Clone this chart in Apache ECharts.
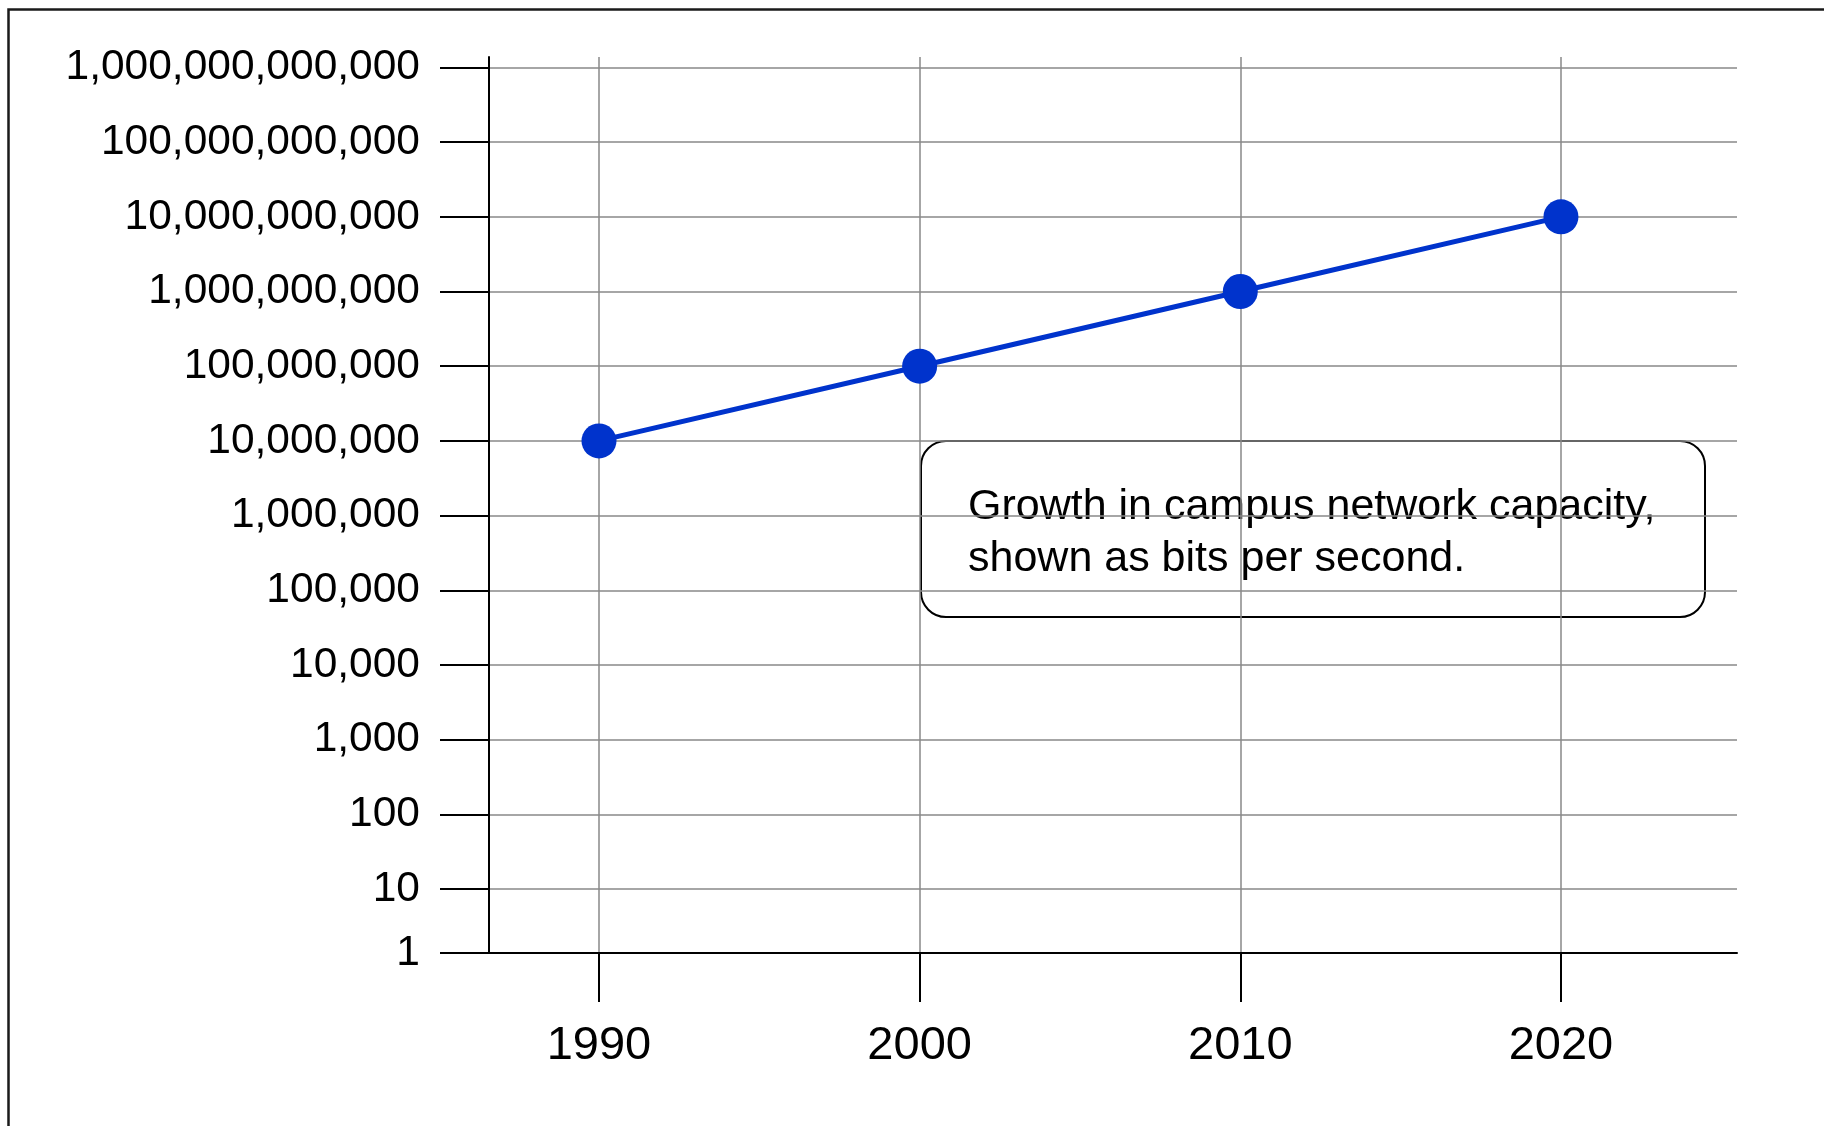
<!DOCTYPE html>
<html>
<head>
<meta charset="utf-8">
<style>
  html, body { margin: 0; padding: 0; background: #ffffff; }
  #chart { width: 1824px; height: 1126px; }
</style>
<script src="https://cdn.jsdelivr.net/npm/echarts@6/dist/echarts.min.js"></script>
</head>
<body>
<div id="chart"></div>
<script>
// ---- data ----
const years = [1990, 2000, 2010, 2020];
const bitsPerSecond = [1e7, 1e8, 1e9, 1e10];
const xTickValues = [1990, 2000, 2010, 2020];
const xTickLabels = ['1990', '2000', '2010', '2020'];
const yTickValues = [1, 10, 100, 1e3, 1e4, 1e5, 1e6, 1e7, 1e8, 1e9, 1e10, 1e11, 1e12];
const yTickLabels = ['1', '10', '100', '1,000', '10,000', '100,000', '1,000,000',
  '10,000,000', '100,000,000', '1,000,000,000', '10,000,000,000',
  '100,000,000,000', '1,000,000,000,000'];
const noteText = 'Growth in campus network capacity,\nshown as bits per second.';

// ---- axis extents ----
const X_MIN = 1986.57, X_MAX = 2025.49;
const Y_MIN = 1.39, Y_MAX = 1.38e12;

const FONT = '"Liberation Sans", Arial, sans-serif';
const GRID_COLOR = '#888888';

const yPlaced = yTickValues.map(v => Math.max(v, Y_MIN));
function yLabel(v) {
  const i = Math.round(Math.log10(v));
  return yTickLabels[i] !== undefined ? yTickLabels[i] : '';
}
function xLabel(v) {
  const i = xTickValues.indexOf(Math.round(v));
  return i >= 0 ? xTickLabels[i] : '';
}

const chart = echarts.init(document.getElementById('chart'), null, { renderer: 'canvas' });
chart.setOption({
  backgroundColor: '#ffffff',
  animation: false,
  textStyle: { fontFamily: FONT },
  grid: { left: 489, top: 57, right: 87, bottom: 173, containLabel: false },
  xAxis: {
    type: 'value',
    min: X_MIN,
    max: X_MAX,
    axisLine: { show: true, lineStyle: { color: '#000', width: 2 } },
    axisTick: { show: true, length: 49, customValues: xTickValues, lineStyle: { color: '#000', width: 2 } },
    axisLabel: {
      show: true, customValues: xTickValues, formatter: xLabel,
      fontSize: 47, color: '#000', fontFamily: FONT, margin: 70
    },
    splitLine: { show: true, showMinLine: true, showMaxLine: true, lineStyle: { color: GRID_COLOR, width: 1.5 } }
  },
  yAxis: {
    type: 'log',
    logBase: 10,
    min: Y_MIN,
    max: Y_MAX,
    axisLine: { show: true, lineStyle: { color: '#000', width: 2 } },
    axisTick: { show: true, length: 49, customValues: yPlaced, lineStyle: { color: '#000', width: 2 } },
    axisLabel: {
      show: true, customValues: yPlaced, formatter: yLabel,
      fontSize: 42.5, color: '#000', fontFamily: FONT, margin: 69
    },
    splitLine: { show: true, showMinLine: true, showMaxLine: true, lineStyle: { color: GRID_COLOR, width: 1.5 } }
  },
  series: [{
    type: 'line',
    data: years.map((y, i) => [y, bitsPerSecond[i]]),
    symbol: 'circle',
    symbolSize: 35,
    itemStyle: { color: '#0033cc' },
    lineStyle: { color: '#0033cc', width: 5 },
    z: 5
  }],
  graphic: [
    {
      type: 'rect',
      silent: true,
      shape: { x: 8.5, y: 9.5, width: 1900, height: 1200 },
      style: { fill: 'none', stroke: '#1a1a1a', lineWidth: 2.5 },
      z: 100
    },
    {
      type: 'group',
      z: 50,
      children: [
        {
          type: 'rect',
          shape: { x: 921, y: 441, width: 784, height: 176, r: 25 },
          style: { fill: '#ffffff', stroke: '#000', lineWidth: 2 }
        },
        {
          type: 'text',
          x: 968,
          y: 481,
          style: {
            text: noteText,
            font: '43px ' + FONT,
            lineHeight: 52,
            fill: '#000',
            verticalAlign: 'top',
            align: 'left'
          }
        }
      ]
    }
  ]
});
</script>
</body>
</html>
